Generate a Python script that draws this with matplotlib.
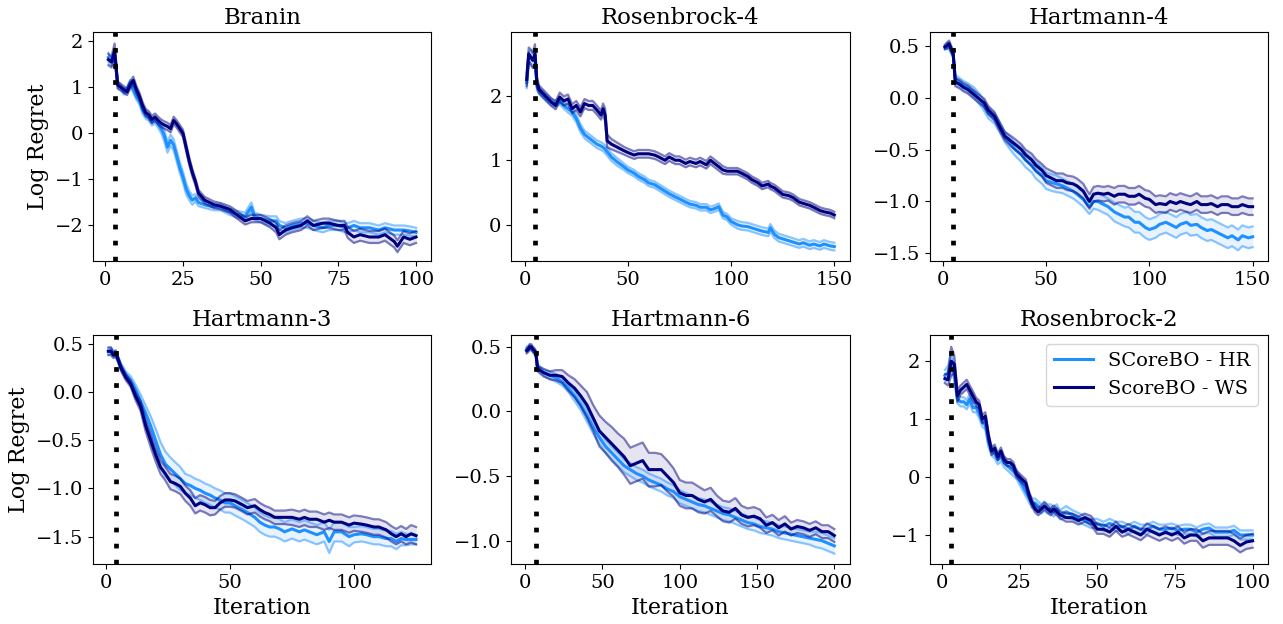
import matplotlib
matplotlib.use("Agg")
import matplotlib.pyplot as plt
from matplotlib.ticker import MultipleLocator
import numpy as np

plt.rcParams['font.family'] = ['DejaVu Serif']

titles = ["Branin", "Rosenbrock-4", "Hartmann-4", "Hartmann-3", "Hartmann-6", "Rosenbrock-2"]
series_labels = ["SCoreBO - HR", "ScoreBO - WS"]
init_iters = [3, 5, 5, 4, 7, 3]
x_tick_steps = [25, 50, 50, 50, 50, 25]

# ---------------- Branin ----------------
branin_x = [1,2,3,4,5,6,7,8,9,10,11,12,13,14,15,16,17,18,19,20,21,22,23,24,25,26,27,28,29,30,
            32,35,37,40,42,45,47,48,50,53,55,56,58,60,63,65,67,70,72,75,77,78,80,82,85,88,90,93,94,96,98,100]
branin_ws = [1.6,1.55,1.8,1.05,1.0,0.95,0.9,1.05,1.15,0.95,0.8,0.6,0.45,0.4,0.3,0.35,0.28,0.22,0.18,0.15,
             0.1,0.28,0.2,0.1,0.0,-0.3,-0.6,-0.85,-1.05,-1.3,
             -1.45,-1.55,-1.58,-1.65,-1.75,-1.9,-1.85,-1.85,-1.85,-1.95,-2.05,-2.2,-2.1,-2.05,-2.0,-1.9,-2.0,-1.95,
             -1.95,-2.0,-2.0,-2.15,-2.25,-2.2,-2.25,-2.25,-2.2,-2.35,-2.45,-2.25,-2.3,-2.25]
branin_ws_err = [0.12,0.12,0.15,0.08,0.07,0.07,0.07,0.08,0.08,0.08,0.08,0.08,0.08,0.08,0.08,0.08,0.08,0.08,0.08,0.08,
                 0.08,0.08,0.08,0.08,0.08,0.08,0.08,0.08,0.07,0.07,
                 0.07,0.07,0.07,0.07,0.08,0.08,0.08,0.08,0.08,0.09,0.1,0.1,0.1,0.1,0.1,0.1,0.1,0.1,0.1,0.1,
                 0.1,0.12,0.13,0.13,0.13,0.13,0.13,0.13,0.13,0.13,0.13,0.13]
branin_hr = [1.65,1.55,1.7,1.05,1.0,0.9,0.95,1.1,0.95,0.8,0.7,0.5,0.4,0.35,0.25,0.3,0.2,0.1,-0.05,-0.3,
             -0.15,-0.25,-0.5,-0.75,-0.95,-1.2,-1.35,-1.45,-1.4,-1.5,
             -1.55,-1.6,-1.6,-1.7,-1.75,-1.8,-1.6,-1.8,-1.85,-1.9,-1.9,-2.0,-2.05,-2.0,-1.95,-1.95,-2.0,-2.05,
             -2.0,-2.0,-2.05,-2.05,-2.0,-2.05,-2.05,-2.1,-2.05,-2.1,-2.1,-2.1,-2.12,-2.15]
branin_hr_err = [0.1,0.08,0.1,0.06,0.06,0.06,0.06,0.06,0.07,0.07,0.07,0.08,0.08,0.08,0.08,0.08,0.08,0.1,0.12,0.12,
                 0.12,0.12,0.12,0.12,0.12,0.12,0.1,0.1,0.08,0.08,
                 0.07,0.07,0.07,0.07,0.07,0.08,0.1,0.08,0.08,0.1,0.1,0.1,0.1,0.1,0.1,0.1,0.1,0.1,0.1,0.1,
                 0.1,0.1,0.1,0.1,0.1,0.1,0.1,0.1,0.1,0.1,0.1,0.1]

# ---------------- Rosenbrock-4 ----------------
rosen4_x = [1,2,3,4,5,6,7,10,13,15,17,19,21,23,25,27,29,31,33,35,37,38,39,40,
            42,45,48,50,53,55,58,60,63,65,68,70,73,75,78,80,83,85,88,90,92,94,96,98,100,
            103,105,108,110,113,115,118,119,121,123,125,128,130,133,135,138,140,143,145,148,150]
rosen4_ws = [2.25,2.65,2.6,2.55,2.65,2.2,2.1,2.0,1.9,1.85,1.98,1.92,1.95,1.8,1.85,1.75,1.88,1.85,1.85,1.78,1.7,1.8,1.7,1.3,
             1.25,1.2,1.15,1.12,1.08,1.1,1.1,1.1,1.08,1.05,1.0,1.05,1.0,1.0,0.95,0.98,0.95,0.98,0.93,1.0,0.95,0.9,0.85,0.83,0.83,
             0.83,0.8,0.75,0.7,0.65,0.6,0.63,0.6,0.57,0.52,0.47,0.45,0.42,0.35,0.33,0.3,0.27,0.22,0.2,0.18,0.15]
rosen4_ws_err = [0.1,0.1,0.12,0.12,0.15,0.08,0.06,0.06,0.06,0.06,0.07,0.07,0.07,0.07,0.07,0.07,0.07,0.07,0.07,0.07,0.07,0.08,0.1,0.1,
                 0.08,0.07,0.06,0.06,0.06,0.06,0.06,0.06,0.06,0.06,0.06,0.06,0.06,0.06,0.06,0.06,0.06,0.06,0.06,0.06,0.06,0.06,0.06,0.05,0.05,
                 0.05,0.05,0.05,0.05,0.05,0.05,0.05,0.05,0.05,0.05,0.05,0.05,0.05,0.05,0.05,0.05,0.05,0.05,0.05,0.05,0.05]
rosen4_hr = [2.2,2.6,2.6,2.55,2.6,2.15,2.08,1.98,1.9,1.88,1.92,1.85,1.8,1.75,1.65,1.5,1.4,1.35,1.3,1.25,1.22,1.2,1.17,1.13,
             1.05,0.97,0.9,0.85,0.8,0.75,0.7,0.65,0.62,0.58,0.52,0.48,0.43,0.4,0.35,0.32,0.3,0.27,0.27,0.23,0.25,0.28,0.15,0.12,0.05,
             0.0,-0.02,-0.03,-0.05,-0.08,-0.1,-0.12,-0.05,-0.15,-0.2,-0.22,-0.25,-0.27,-0.3,-0.28,-0.32,-0.3,-0.33,-0.3,-0.33,-0.34]
rosen4_hr_err = [0.08,0.08,0.1,0.1,0.12,0.06,0.05,0.05,0.05,0.05,0.05,0.05,0.06,0.06,0.06,0.06,0.06,0.06,0.06,0.06,0.06,0.06,0.06,0.06,
                 0.06,0.06,0.05,0.05,0.05,0.05,0.05,0.05,0.05,0.05,0.05,0.05,0.05,0.05,0.05,0.05,0.05,0.05,0.05,0.05,0.05,0.05,0.05,0.05,0.05,
                 0.06,0.06,0.06,0.06,0.06,0.06,0.06,0.06,0.06,0.06,0.06,0.06,0.06,0.06,0.06,0.06,0.06,0.06,0.06,0.06,0.06]

# ---------------- Hartmann-4 ----------------
hart4_x = [1,2,3,4,5,6,8,10,12,15,18,20,22,25,28,30,33,35,38,40,43,45,48,50,53,55,
           58,60,63,65,68,70,71,73,75,78,80,83,85,88,90,93,95,98,100,103,
           105,108,110,113,115,118,120,123,125,128,130,133,135,138,140,143,145,148,150]
hart4_ws = [0.49,0.5,0.52,0.47,0.42,0.15,0.13,0.1,0.08,0.03,-0.02,-0.05,-0.12,-0.18,-0.3,-0.37,
            -0.42,-0.45,-0.5,-0.55,-0.6,-0.65,-0.7,-0.75,-0.78,-0.8,
            -0.8,-0.82,-0.83,-0.85,-0.9,-0.97,-1.0,-0.93,-0.92,-0.93,
            -0.92,-0.95,-0.93,-0.93,-0.95,-0.95,-0.93,-0.97,-0.98,-1.03,
            -1.02,-1.03,-1.0,-1.02,-1.0,-1.02,-1.03,-1.0,-1.03,-1.03,
            -1.02,-1.05,-1.03,-1.03,-1.05,-1.05,-1.03,-1.05,-1.05]
hart4_ws_err = [0.02,0.03,0.03,0.03,0.03,0.04,0.04,0.04,0.04,0.04,0.04,0.04,0.04,0.04,0.04,0.04,
                0.05,0.05,0.05,0.05,0.06,0.06,0.06,0.07,0.07,0.07,
                0.07,0.07,0.07,0.07,0.07,0.07,0.07,0.07,0.07,0.07,
                0.07,0.08,0.08,0.08,0.08,0.08,0.08,0.08,0.08,0.08,
                0.08,0.08,0.08,0.08,0.08,0.08,0.08,0.08,0.08,0.08,
                0.08,0.08,0.08,0.08,0.08,0.08,0.08,0.08,0.08]
hart4_hr = [0.48,0.5,0.5,0.45,0.42,0.18,0.15,0.12,0.1,0.05,-0.02,-0.08,-0.15,-0.2,-0.3,-0.38,
            -0.45,-0.5,-0.55,-0.6,-0.65,-0.7,-0.75,-0.8,-0.82,-0.83,
            -0.85,-0.87,-0.9,-0.93,-0.98,-1.03,-1.05,-1.0,-1.0,-1.03,
            -1.05,-1.1,-1.12,-1.15,-1.15,-1.2,-1.2,-1.25,-1.27,-1.25,
            -1.22,-1.2,-1.22,-1.25,-1.22,-1.2,-1.23,-1.22,-1.25,-1.28,
            -1.27,-1.3,-1.32,-1.35,-1.33,-1.37,-1.33,-1.35,-1.34]
hart4_hr_err = [0.02,0.03,0.03,0.03,0.03,0.04,0.04,0.04,0.04,0.05,0.05,0.05,0.05,0.05,0.05,0.05,
                0.06,0.06,0.07,0.07,0.07,0.08,0.08,0.08,0.08,0.08,
                0.07,0.07,0.07,0.07,0.07,0.07,0.07,0.07,0.08,0.08,
                0.08,0.09,0.09,0.09,0.1,0.1,0.1,0.1,0.1,0.1,
                0.1,0.1,0.1,0.1,0.1,0.1,0.1,0.1,0.1,0.1,
                0.1,0.1,0.1,0.1,0.1,0.1,0.1,0.1,0.1]

# ---------------- Hartmann-3 ----------------
hart3_x = [1,2,3,4,5,6,8,10,12,14,16,18,20,22,24,26,28,30,32,34,36,38,40,42,44,46,48,50,
           52,55,57,60,62,64,66,68,70,72,75,78,80,82,85,88,90,92,95,98,
           100,103,105,108,110,113,115,117,119,121,123,125]
hart3_ws = [0.42,0.42,0.38,0.4,0.33,0.25,
            0.15,0.08,-0.05,-0.15,-0.35,-0.5,-0.65,-0.78,-0.85,-0.93,-0.95,-0.98,-1.05,-1.1,-1.18,-1.15,-1.17,-1.2,-1.2,-1.15,-1.12,-1.12,
            -1.13,-1.17,-1.2,-1.18,-1.22,-1.25,-1.27,-1.3,-1.3,-1.3,
            -1.3,-1.32,-1.3,-1.32,-1.32,-1.35,-1.33,-1.35,-1.35,-1.38,
            -1.36,-1.37,-1.38,-1.4,-1.4,-1.43,-1.47,-1.5,-1.47,-1.5,-1.47,-1.49]
hart3_ws_err = [0.04,0.04,0.03,0.03,0.03,0.03,
                0.03,0.03,0.04,0.05,0.06,0.07,0.07,0.07,0.07,0.08,0.08,0.08,0.08,0.08,0.08,0.08,0.08,0.08,0.07,0.07,0.07,0.07,
                0.07,0.07,0.07,0.07,0.07,0.07,0.07,0.07,0.07,0.07,
                0.08,0.08,0.08,0.08,0.08,0.08,0.08,0.08,0.08,0.08,
                0.08,0.08,0.08,0.08,0.08,0.08,0.08,0.08,0.08,0.08,0.09,0.09]
hart3_hr = [0.42,0.43,0.4,0.38,0.33,0.27,
            0.18,0.12,0.02,-0.1,-0.22,-0.35,-0.5,-0.65,-0.75,-0.8,-0.85,-0.9,-0.95,-0.97,-1.0,-1.02,-1.05,-1.07,-1.1,-1.12,-1.15,-1.15,
            -1.18,-1.22,-1.25,-1.3,-1.35,-1.38,-1.4,-1.4,-1.42,-1.45,
            -1.42,-1.45,-1.43,-1.45,-1.48,-1.45,-1.55,-1.45,-1.45,-1.5,
            -1.48,-1.47,-1.48,-1.5,-1.5,-1.52,-1.52,-1.55,-1.52,-1.53,-1.53,-1.53]
hart3_hr_err = [0.03,0.03,0.03,0.03,0.03,0.03,
                0.03,0.04,0.05,0.07,0.08,0.1,0.12,0.13,0.13,0.12,0.12,0.12,0.1,0.1,0.1,0.1,0.1,0.1,0.1,0.1,0.1,0.1,
                0.1,0.1,0.1,0.1,0.1,0.1,0.1,0.1,0.1,0.1,
                0.1,0.1,0.1,0.1,0.1,0.1,0.12,0.1,0.1,0.1,
                0.08,0.08,0.08,0.08,0.08,0.08,0.08,0.08,0.07,0.06,0.05,0.05]

# ---------------- Hartmann-6 ----------------
hart6_x = [1,2,3,4,5,6,7,8,
           12,16,20,24,28,32,36,40,44,48,52,56,60,64,68,72,76,80,84,88,
           92,96,100,104,108,112,116,120,124,128,132,136,140,144,148,152,156,160,164,168,
           172,176,180,184,188,192,196,200]
hart6_ws = [0.47,0.48,0.5,0.5,0.48,0.47,0.45,0.33,
            0.3,0.28,0.28,0.27,0.22,0.18,0.12,0.05,-0.05,-0.15,-0.2,-0.25,-0.3,-0.35,-0.42,-0.4,-0.38,-0.45,-0.45,-0.45,
            -0.5,-0.55,-0.63,-0.65,-0.65,-0.68,-0.7,-0.68,-0.73,-0.77,-0.78,-0.75,-0.8,-0.82,-0.81,-0.83,-0.88,-0.86,-0.9,-0.87,
            -0.91,-0.89,-0.9,-0.92,-0.9,-0.93,-0.93,-0.96]
hart6_ws_err = [0.02,0.02,0.02,0.02,0.02,0.02,0.02,0.02,
                0.03,0.03,0.04,0.05,0.06,0.07,0.08,0.1,0.1,0.12,0.12,0.13,0.13,0.14,0.14,0.14,0.14,0.13,0.13,0.12,
                0.12,0.11,0.1,0.1,0.1,0.1,0.09,0.09,0.08,0.08,0.08,0.08,0.07,0.07,0.07,0.07,0.06,0.06,0.06,0.06,
                0.05,0.05,0.05,0.05,0.05,0.05,0.05,0.05]
hart6_hr = [0.48,0.49,0.5,0.49,0.48,0.46,0.44,0.35,
            0.3,0.28,0.26,0.23,0.18,0.12,0.05,-0.03,-0.12,-0.2,-0.27,-0.32,-0.37,-0.42,-0.45,-0.48,-0.5,-0.53,-0.55,-0.57,
            -0.6,-0.62,-0.66,-0.68,-0.7,-0.72,-0.73,-0.75,-0.77,-0.79,-0.8,-0.82,-0.84,-0.86,-0.87,-0.89,-0.9,-0.91,-0.93,-0.94,
            -0.95,-0.96,-0.97,-0.98,-0.99,-1.0,-1.02,-1.04]
hart6_hr_err = [0.02,0.02,0.02,0.02,0.02,0.02,0.02,0.02,
                0.02,0.03,0.03,0.03,0.03,0.04,0.04,0.05,0.05,0.05,0.05,0.05,0.05,0.05,0.05,0.05,0.05,0.05,0.05,0.05,
                0.05,0.05,0.05,0.05,0.05,0.05,0.05,0.05,0.05,0.05,0.05,0.05,0.05,0.05,0.05,0.05,0.05,0.05,0.05,0.05,
                0.05,0.05,0.05,0.05,0.06,0.06,0.06,0.06]

# ---------------- Rosenbrock-2 ----------------
rosen2_x = [1,2,3,4,5,6,7,8,9,10,11,12,13,14,15,16,17,18,19,20,21,22,23,24,25,26,27,28,29,30,
            31,32,33,34,35,36,37,38,
            40,42,44,46,48,50,52,54,56,58,60,62,64,66,68,70,72,74,76,78,80,82,84,86,88,90,92,94,96,98,100]
rosen2_ws = [1.7,1.68,2.0,1.95,1.4,1.5,1.55,1.6,1.5,1.4,1.3,1.25,1.0,1.05,0.7,0.45,0.5,0.35,0.45,0.3,
             0.25,0.25,0.2,0.05,0.0,-0.05,-0.1,-0.3,-0.45,-0.55,
             -0.6,-0.55,-0.5,-0.55,-0.6,-0.55,-0.6,-0.65,
             -0.7,-0.7,-0.75,-0.7,-0.75,-0.9,-0.9,-0.95,-0.85,-0.95,-0.9,-0.95,-1.0,-0.9,-0.95,-1.0,
             -0.95,-1.0,-0.95,-1.05,-1.0,-1.0,-1.1,-1.05,-1.05,-1.05,-1.05,-1.1,-1.18,-1.12,-1.1]
rosen2_ws_err = [0.08,0.1,0.25,0.15,0.1,0.08,0.08,0.08,0.08,0.08,0.07,0.07,0.07,0.07,0.07,0.07,0.06,0.06,0.06,0.06,
                 0.06,0.06,0.06,0.06,0.06,0.06,0.06,0.06,0.06,0.06,
                 0.06,0.06,0.06,0.06,0.06,0.06,0.06,0.06,
                 0.07,0.07,0.07,0.07,0.08,0.08,0.08,0.08,0.08,0.08,0.09,0.09,0.09,0.1,0.1,0.1,
                 0.1,0.1,0.1,0.1,0.1,0.1,0.12,0.12,0.12,0.12,0.12,0.12,0.12,0.12,0.12]
rosen2_hr = [1.75,1.8,2.0,1.8,1.35,1.3,1.3,1.25,1.35,1.2,1.2,1.1,0.95,0.9,0.6,0.45,0.4,0.3,0.35,0.25,
             0.2,0.15,0.1,0.05,-0.05,-0.15,-0.25,-0.35,-0.45,-0.45,
             -0.5,-0.55,-0.5,-0.55,-0.55,-0.6,-0.55,-0.65,
             -0.6,-0.65,-0.7,-0.75,-0.8,-0.8,-0.85,-0.8,-0.85,-0.85,-0.9,-0.85,-0.9,-0.9,-0.85,-0.9,
             -0.9,-0.88,-0.92,-0.9,-0.9,-0.95,-0.9,-0.88,-0.95,-0.95,-0.95,-0.92,-1.0,-1.0,-1.0]
rosen2_hr_err = [0.1,0.12,0.15,0.12,0.08,0.08,0.08,0.08,0.08,0.08,0.08,0.08,0.08,0.08,0.08,0.08,0.08,0.08,0.08,0.08,
                 0.08,0.08,0.08,0.08,0.08,0.08,0.08,0.08,0.08,0.08,
                 0.08,0.08,0.08,0.08,0.08,0.08,0.08,0.08,
                 0.1,0.08,0.08,0.08,0.08,0.08,0.08,0.08,0.08,0.08,0.08,0.08,0.08,0.08,0.08,0.08,
                 0.08,0.08,0.08,0.08,0.08,0.08,0.08,0.08,0.08,0.08,0.08,0.08,0.08,0.08,0.08]

ylims = [(-2.78, 2.2), (-0.57, 2.99), (-1.577, 0.632), (-1.783, 0.593), (-1.18, 0.595), (-1.5, 2.46)]

panels = [
    (branin_x, branin_hr, branin_hr_err, branin_ws, branin_ws_err),
    (rosen4_x, rosen4_hr, rosen4_hr_err, rosen4_ws, rosen4_ws_err),
    (hart4_x, hart4_hr, hart4_hr_err, hart4_ws, hart4_ws_err),
    (hart3_x, hart3_hr, hart3_hr_err, hart3_ws, hart3_ws_err),
    (hart6_x, hart6_hr, hart6_hr_err, hart6_ws, hart6_ws_err),
    (rosen2_x, rosen2_hr, rosen2_hr_err, rosen2_ws, rosen2_ws_err),
]

colors = ["#1E90FF", "#00007F"]

fig, axes = plt.subplots(2, 3, figsize=(12.83, 6.24), dpi=100)
fig.subplots_adjust(left=0.0725, right=0.9883, bottom=0.0962, top=0.9487, wspace=0.236, hspace=0.319)

for k, ax in enumerate(axes.flat):
    x, hr, hr_err, ws, ws_err = panels[k]
    x = np.asarray(x)
    for mean, err, c, lab in [(hr, hr_err, colors[0], series_labels[0]),
                              (ws, ws_err, colors[1], series_labels[1])]:
        mean = np.asarray(mean)
        err = np.asarray(err)
        lo, hi = mean - err, mean + err
        ax.fill_between(x, lo, hi, color=c, alpha=0.1, linewidth=0)
        ax.plot(x, lo, color=c, alpha=0.5, linewidth=1.6)
        ax.plot(x, hi, color=c, alpha=0.5, linewidth=1.6)
        ax.plot(x, mean, color=c, linewidth=2.2, label=lab)
    ax.axvline(init_iters[k], color="black", linewidth=3.4, linestyle=(0, (1, 2.4)), zorder=10)
    ax.set_ylim(*ylims[k])
    ax.xaxis.set_major_locator(MultipleLocator(x_tick_steps[k]))
    ax.set_title(titles[k], fontsize=16.5)
    ax.tick_params(labelsize=14)
    if k % 3 == 0:
        ax.set_ylabel("Log Regret", fontsize=16)
    if k >= 3:
        ax.set_xlabel("Iteration", fontsize=16)
    if k == 5:
        ax.legend(loc="upper right", fontsize=14)

fig.savefig("out.png", dpi=100)
